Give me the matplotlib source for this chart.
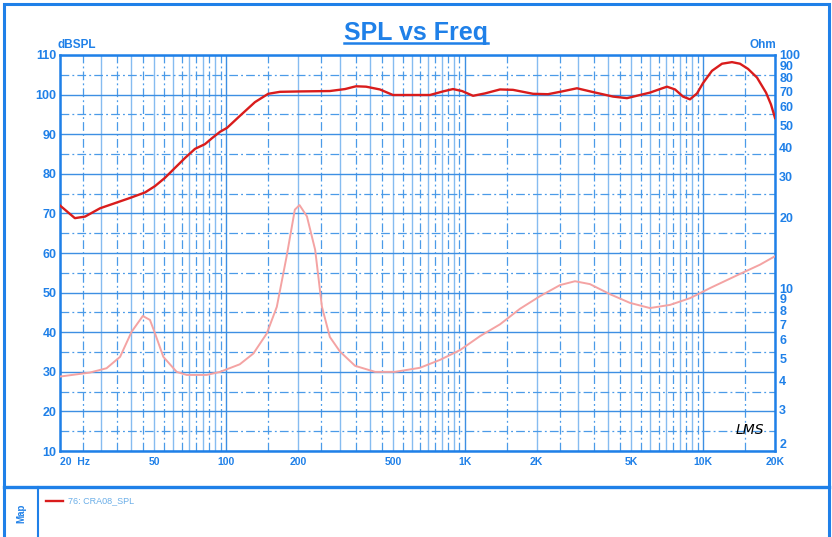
import numpy as np
import matplotlib
matplotlib.use('Agg')
import matplotlib.pyplot as plt
from matplotlib.lines import Line2D
from matplotlib.patches import Rectangle
from matplotlib.ticker import FixedLocator, NullLocator, NullFormatter

# SPL curve (Hz, dB)
splFreq = [20, 23.2, 25.6, 29.6, 34.2, 39.5, 45.7, 50.3, 55.4, 61, 67.2, 74, 81.5, 87.2, 94.2,
           100.8, 114, 132, 150, 168, 204, 272, 315, 350, 386, 441, 500, 715, 811, 893, 974,
           1084, 1216, 1406, 1594, 1934, 2234, 2558, 2956, 3418, 4186, 4792, 5432, 5980, 6590,
           7050, 7620, 8230, 8800, 9420, 9980, 10880, 11990, 13200, 14260, 15410, 16810, 18340,
           19240, 20000]
splValue = [72.1, 68.8, 69.2, 71.3, 72.6, 73.9, 75.3, 76.9, 79.0, 81.5, 84.0, 86.3, 87.5, 89.0, 90.6,
            91.6, 94.6, 98.1, 100.2, 100.7, 100.8, 100.9, 101.4, 102.1, 102.0, 101.3, 99.9, 99.9, 100.8, 101.4, 100.9,
            99.7, 100.3, 101.3, 101.2, 100.2, 100.1, 100.8, 101.6, 100.7, 99.5, 99.1, 99.9, 100.5, 101.4,
            102.0, 101.3, 99.5, 98.8, 100.3, 102.9, 106.0, 107.8, 108.2, 107.8, 106.5, 104.3, 100.5,
            97.5, 94.1]

# impedance curve (Hz, Ohm)
impFreq = [20, 26.8, 31.5, 35.9, 40.1, 44.7, 47.9, 50.3, 54.5, 62, 68.3, 82.8, 94.2, 114, 130, 148,
           163, 179, 194, 203, 218, 236, 252, 272, 300, 347, 421, 510, 649, 788, 956, 1159, 1406,
           1705, 2068, 2510, 2900, 3350, 4070, 4930, 5980, 7260, 8800, 10680, 14260, 17300, 20000]
impValue = [4.17, 4.34, 4.53, 5.07, 6.49, 7.59, 7.30, 6.39, 5.07, 4.37, 4.24, 4.24, 4.37, 4.71, 5.24, 6.39,
            8.31, 13.6, 21.7, 22.7, 20.3, 14.6, 8.31, 6.17, 5.34, 4.64, 4.37, 4.37, 4.55, 4.92, 5.42, 6.22, 6.99,
            8.15, 9.23, 10.3, 10.7, 10.4, 9.41, 8.64, 8.21, 8.47, 9.05, 10.0, 11.5, 12.6, 13.7]

xTicks = [20, 50, 100, 200, 500, 1000, 2000, 5000, 10000, 20000]
xTickLabels = ['20  Hz', '50', '100', '200', '500', '1K', '2K', '5K', '10K', '20K']
dbTicks = list(range(10, 111, 10))
ohmTicks = [2, 3, 4, 5, 6, 7, 8, 9, 10, 20, 30, 40, 50, 60, 70, 80, 90, 100]
legendLabel = '76: CRA08_SPL'

blue = '#1f80e8'
gridDark = '#3d8fe3'
gridLight = '#86bcf0'
gridDash = '#4b9be8'
dashDot = (0, (7, 2.5, 1.5, 2.5))

plt.rcParams['font.family'] = ['Liberation Sans', 'DejaVu Sans']

W, H = 832, 537
fig = plt.figure(figsize=(W / 100, H / 100), dpi=100)

def px(x0, y0, x1, y1):
    """pixel box (top-left origin) -> figure axes rect"""
    return [x0 / W, 1 - y1 / H, (x1 - x0) / W, (y1 - y0) / H]

ax = fig.add_axes(px(59.5, 55, 775, 451))
ax.set_xscale('log')
ax.set_xlim(20, 20000)
ax.set_ylim(10, 110)

# grid: solid on 1..9 x decade, dash-dot on the halves
for dec in [10, 100, 1000, 10000]:
    for m in range(1, 10):
        f = m * dec
        if 20 <= f <= 20000:
            ax.axvline(f, color=gridDark if m == 1 else gridLight, lw=1.0, zorder=1)
        fh = (m + 0.5) * dec
        if 20 < fh < 20000:
            ax.axvline(fh, color=gridDash, lw=0.9, ls=dashDot, zorder=1)
for v in range(10, 111, 10):
    ax.axhline(v, color=gridDark, lw=1.0, zorder=1)
for v in range(15, 110, 10):
    ax.axhline(v, color=gridDash, lw=0.9, ls=dashDot, zorder=1)

ax.plot(splFreq, splValue, color='#d91c1c', lw=1.7, zorder=4)

ax.xaxis.set_major_locator(FixedLocator(xTicks))
ax.xaxis.set_minor_locator(NullLocator())
ax.set_xticklabels(xTickLabels)
ax.yaxis.set_major_locator(FixedLocator(dbTicks))
ax.tick_params(axis='both', length=0, colors=blue, labelsize=9)
ax.tick_params(axis='x', labelsize=7.5, pad=4)
ax.tick_params(axis='y', pad=2)
for lab in ax.get_xticklabels() + ax.get_yticklabels():
    lab.set_fontweight('bold')
ax.get_xticklabels()[0].set_ha('left')
for s in ax.spines.values():
    s.set_color(blue)
    s.set_linewidth(1.8)

ax2 = ax.twinx()
ax2.set_yscale('log')
ax2.set_ylim(2, 100)
ax2.plot(impFreq, impValue, color='#f4a3a3', lw=1.4, zorder=3)
ax2.yaxis.set_major_locator(FixedLocator(ohmTicks))
ax2.yaxis.set_minor_locator(NullLocator())
ax2.yaxis.set_minor_formatter(NullFormatter())
ax2.set_yticklabels([str(t) for t in ohmTicks])
ax2.tick_params(axis='y', length=0, colors=blue, labelsize=9, pad=3)
for lab in ax2.get_yticklabels():
    lab.set_fontweight('bold')
# lowest Ohm label sits just above the 20K label
ax2.get_yticklabels()[0].set_va('bottom')
for s in ax2.spines.values():
    s.set_visible(False)

fig.text(58 / W, 1 - 45 / H, 'dBSPL', color=blue, fontsize=8.5, fontweight='bold', va='center', ha='left')
fig.text(776 / W, 1 - 45 / H, 'Ohm', color=blue, fontsize=8.5, fontweight='bold', va='center', ha='right')
ax.text(0.985, 0.035, 'LMS', transform=ax.transAxes, ha='right', va='bottom',
        fontsize=10, style='italic', color='black', family='DejaVu Sans')

title = fig.text(416 / W, 1 - 40 / H, 'SPL vs Freq', color=blue, fontsize=18, fontweight='bold',
                 ha='center', va='baseline')

# frame and Map panel
fig.add_artist(Rectangle((4 / W, -0.05), 825 / W, 1.05 - 4 / H, transform=fig.transFigure,
                         fill=False, edgecolor=blue, lw=2.2))
fig.add_artist(Line2D([4 / W, 829 / W], [1 - 487 / H] * 2, color=blue, lw=2.4))
fig.add_artist(Line2D([38 / W] * 2, [1 - 487 / H, 0], color=blue, lw=1.5))
fig.text(21 / W, 1 - 513 / H, 'Map', rotation=90, color=blue, fontsize=7, fontweight='bold',
         ha='center', va='center')
fig.add_artist(Line2D([46 / W, 63 / W], [1 - 501 / H] * 2, color='#d91c1c', lw=1.7))
fig.text(68 / W, 1 - 501 / H, legendLabel, color='#6aaee8', fontsize=6.5, va='center', ha='left')

# underline the title
fig.canvas.draw()
bb = title.get_window_extent()
fig.add_artist(Line2D([bb.x0 / W, bb.x1 / W], [(1 - 43 / H)] * 2, color=blue, lw=1.8))

fig.savefig('out.png', dpi=100)
